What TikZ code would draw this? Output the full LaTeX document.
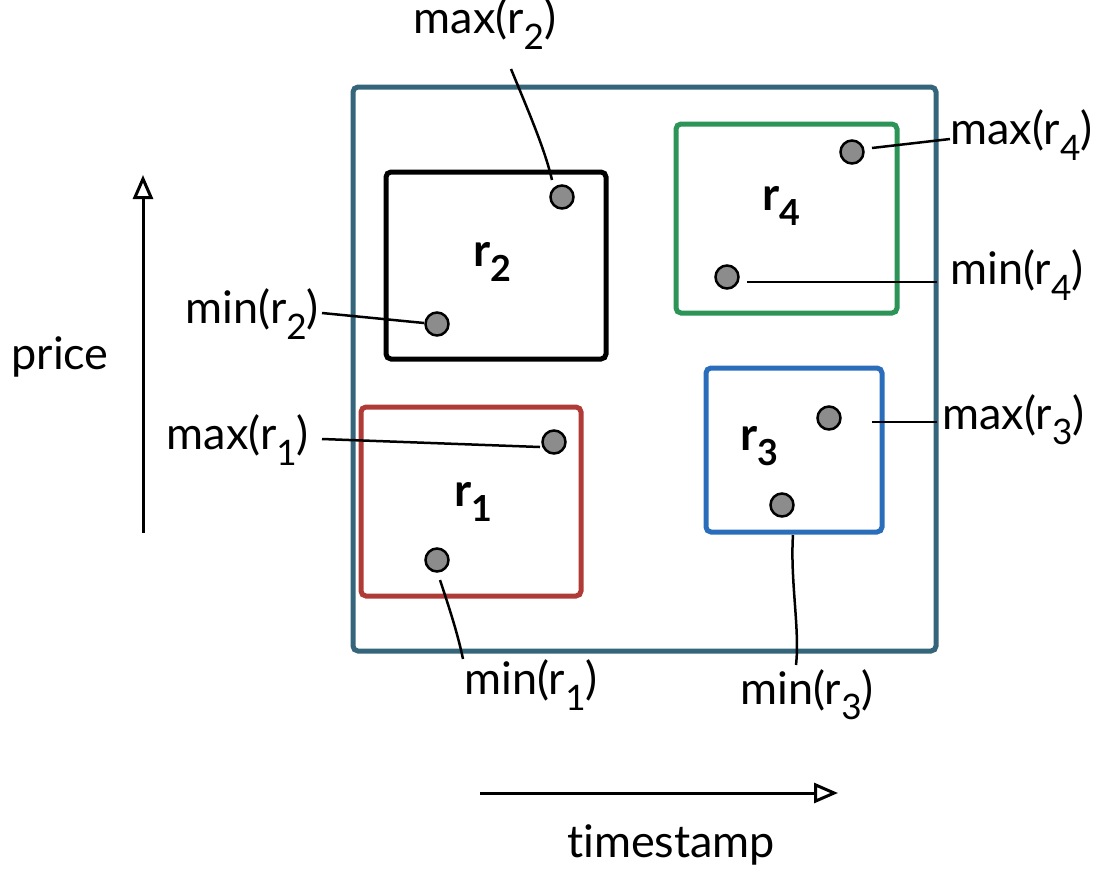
\documentclass[tikz,border=0pt]{standalone}
\usepackage{fontspec}
\setmainfont{Lato}[Ligatures=NoCommon]
\usetikzlibrary{arrows.meta}
\newcommand\subs[1]{\raisebox{-0.34em}{\scalebox{0.78}{#1}}}
\definecolor{frame}{RGB}{52,101,122}
\definecolor{rred}{RGB}{176,59,54}
\definecolor{rgreen}{RGB}{43,148,86}
\definecolor{rblue}{RGB}{42,110,187}
\definecolor{dotgray}{RGB}{140,140,140}
\begin{document}
\begin{tikzpicture}[x=1pt,y=-1pt,
  region/.style={draw, line width=5pt, rounded corners=5pt, anchor=north west, inner sep=0pt, outer sep=0pt},
  pt/.style={circle, draw=black, fill=dotgray, line width=2.5pt, minimum size=23pt, inner sep=0pt},
  lbl/.style={font=\fontsize{45}{50}\selectfont, inner sep=0pt},
  rname/.style={font=\fontsize{46}{50}\selectfont\bfseries, inner sep=0pt},
  conn/.style={line width=2.5pt, black},
  axis/.style={line width=3pt, -{Triangle[open, length=24pt, width=20pt, line width=3pt]}}]
\useasboundingbox (0,0) rectangle (1105,871);
% outer frame
\node[region, draw=frame, minimum width=583pt, minimum height=564pt] (frm) at (353,87) {};
% region boxes
\node[region, draw=black, minimum width=220pt, minimum height=187pt] (b2) at (386,172) {};
\node[region, draw=rgreen, minimum width=221pt, minimum height=189pt] (b4) at (676,124) {};
\node[region, draw=rred, minimum width=220pt, minimum height=189pt] (b1) at (361,407) {};
\node[region, draw=rblue, minimum width=176pt, minimum height=164pt] (b3) at (706,368) {};
% region names
\node[rname] (n2) at (492,262) {r\subs{2}};
\node[rname] (n4) at (781,206) {r\subs{4}};
\node[rname] (n1) at (473,502) {r\subs{1}};
\node[rname] (n3) at (759,446) {r\subs{3}};
% points
\node[pt] (pmax2) at (562,197) {};
\node[pt] (pmin2) at (437,324) {};
\node[pt] (pmax4) at (852,152) {};
\node[pt] (pmin4) at (727,277) {};
\node[pt] (pmax1) at (554,442) {};
\node[pt] (pmin1) at (437,560) {};
\node[pt] (pmax3) at (829,418) {};
\node[pt] (pmin3) at (782,505) {};
% labels
\node[lbl] (lmax2) at (485,24) {max(r\subs{2})};
\node[lbl, anchor=east] (lmin2) at (319,314) {min(r\subs{2})};
\node[lbl, anchor=east] (lmax1) at (309,440) {max(r\subs{1})};
\node[lbl] (lmin1) at (531,685) {min(r\subs{1})};
\node[lbl] (lmin3) at (807,695) {min(r\subs{3})};
\node[lbl, anchor=west] (lmax3) at (942,420) {max(r\subs{3})};
\node[lbl, anchor=west] (lmax4) at (950,135) {max(r\subs{4})};
\node[lbl, anchor=west] (lmin4) at (950,275) {min(r\subs{4})};
\node[lbl] (lprice) at (60,357) {price};
\node[lbl] (ltime) at (671,845) {timestamp};
% connector free ends
\coordinate (e2a) at (511,69);
\coordinate (e2b) at (552,180);
\coordinate (e1a) at (440,580);
\coordinate (e1b) at (463,659);
\coordinate (e3a) at (793,535);
\coordinate (e3b) at (796,665);
\coordinate (e3c) at (872,422);
\coordinate (e3d) at (937,422);
\coordinate (e4a) at (872,148);
\coordinate (e4b) at (950,139);
\coordinate (e4c) at (747,282);
\coordinate (e4d) at (937,282);
\coordinate (e2c) at (322,313);
\coordinate (e2d) at (424,323);
\coordinate (e1c) at (322,439);
\coordinate (e1d) at (540,447);
% connectors
\draw[conn] (e2a) .. controls (530,115) and (545,150) .. (e2b);
\draw[conn] (e2c) -- (e2d);
\draw[conn] (e1c) -- (e1d);
\draw[conn] (e1a) .. controls (450,610) and (458,635) .. (e1b);
\draw[conn] (e3a) .. controls (790,580) and (800,630) .. (e3b);
\draw[conn] (e3c) -- (e3d);
\draw[conn] (e4a) -- (e4b);
\draw[conn] (e4c) -- (e4d);
% axes
\coordinate (ay0) at (143,533);
\coordinate (ay1) at (143,175);
\coordinate (ax0) at (480,793);
\coordinate (ax1) at (838,793);
\draw[axis] (ay0) -- (ay1);
\draw[axis] (ax0) -- (ax1);
\end{tikzpicture}
\end{document}
